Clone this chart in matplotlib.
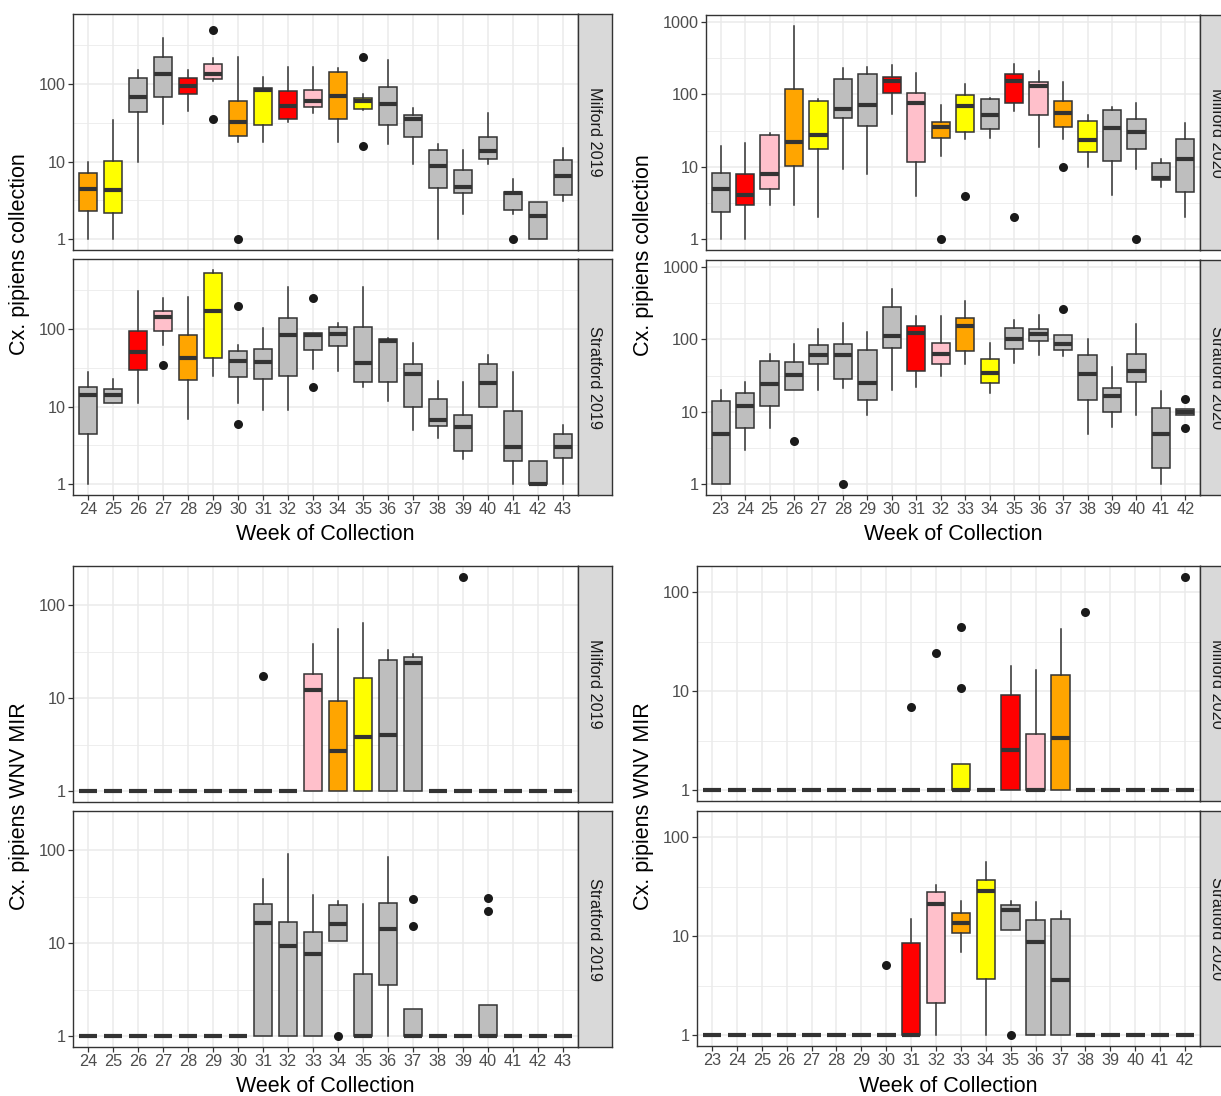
import numpy as np
import matplotlib
matplotlib.use("Agg")
import matplotlib.pyplot as plt
from matplotlib.ticker import FixedLocator

plt.rcParams["font.family"] = ["Liberation Sans", "DejaVu Sans"]

W, H = 1221, 1096

# fill colour code per week (g grey, r red, p pink, o orange, y yellow)
FILLS = {"g": "#BEBEBE", "r": "#FF0000", "p": "#FFC0CB", "o": "#FFA500", "y": "#FFFF00"}

weeks_2019 = list(range(24, 44))
weeks_2020 = list(range(23, 43))

fill_mil19 = "oyggrpoyrpoy" + "g" * 8
fill_str19 = "ggrpoy" + "g" * 14
fill_mil20 = "grpoyggrpoygrpoygggg"
fill_str20 = "g" * 8 + "rpoy" + "g" * 8

# ---- Cx. pipiens collection ----
mil19_lo = [1, 1, 10, 31, 45, 108, 18, 18, 32, 43, 18, 46, 17, 9.2, 1, 2.1, 9.2, 2.1, 1, 3.1]
mil19_q1 = [2.3, 2.2, 44, 68, 74, 118, 21.5, 30, 36, 50, 35, 48, 30, 21, 4.6, 4.0, 10.7, 2.4, 1, 3.7]
mil19_med = [4.5, 4.3, 68, 135, 95, 136, 32, 83, 52, 61, 71, 60, 56, 35, 8.9, 4.7, 13.6, 3.9, 2, 6.5]
mil19_q3 = [7.1, 10.1, 120, 221, 120, 183, 61, 90, 81, 85, 142, 67, 93, 40, 14.2, 7.8, 21, 4.1, 3, 10.6]
mil19_hi = [10, 34, 150, 393, 153, 217, 223, 123, 166, 166, 161, 75, 206, 49, 17, 14, 43, 5.9, 3, 15]
mil19_out = [(29, 494), (29, 35), (30, 1), (35, 223), (35, 16), (41, 1)]

str19_lo = [1, 11, 11, 62, 7, 25, 11, 9.1, 9.1, 31, 29, 18, 12, 5, 4, 2.1, 9.9, 1, 1, 1]
str19_q1 = [4.5, 11, 30, 94, 22, 43, 24, 23, 25, 53, 60, 21, 21, 9.9, 5.7, 2.7, 9.9, 2, 1, 2.2]
str19_med = [14, 14, 51, 145, 42, 173, 39, 38, 84, 85, 87, 37, 70, 26, 6.8, 5.4, 20, 3, 1, 3]
str19_q3 = [18, 17, 94, 171, 84, 527, 52, 56, 140, 90, 107, 107, 74, 35, 12.4, 7.8, 36, 8.7, 2, 4.4]
str19_hi = [28, 22.5, 311, 250, 257, 582, 63, 102, 347, 90, 121, 347, 76, 67, 21.6, 21, 46, 28, 2, 5.8]
str19_out = [(27, 34), (30, 199), (30, 6), (33, 250), (33, 18)]

mil20_lo = [1, 1, 3, 3, 2, 9.2, 8, 53, 4, 14, 24, 25, 58, 19, 24, 10, 4.1, 9.2, 5.2, 2]
mil20_q1 = [2.4, 2.95, 5, 10.3, 17.5, 47, 37, 105, 11.8, 25, 30, 33, 76, 51, 35, 16, 12, 17.7, 6.5, 4.5]
mil20_med = [4.9, 4.1, 8, 22, 27, 63, 71, 153, 75, 35, 69, 51, 152, 131, 55, 23.5, 34, 30, 7.1, 13]
mil20_q3 = [8.2, 7.9, 27, 118, 80, 164, 190, 171, 105, 42, 98, 86, 190, 146, 81, 43, 60, 46, 11.3, 24]
mil20_hi = [19.4, 21.6, 29, 881, 86, 227, 239, 252, 194, 70, 138, 88, 261, 211, 147, 51, 67, 75, 12.7, 40]
mil20_out = [(32, 1), (33, 4), (35, 2), (37, 10), (40, 1)]

str20_lo = [1, 3, 6, 20, 20, 21, 9, 20, 22, 31, 45, 18, 47, 61, 59, 4.9, 6.1, 9, 1, 8.9]
str20_q1 = [1, 6, 12, 20, 45, 28, 14.7, 76, 36, 45, 69, 25, 73, 94, 71, 14.7, 9.8, 25.6, 1.7, 8.9]
str20_med = [5, 12, 24, 32, 60, 60, 25, 112, 120, 63, 151, 34, 101, 119, 87, 33, 16.7, 37, 4.9, 10]
str20_q3 = [14, 18, 50, 49, 83, 87, 71, 275, 153, 88, 198, 54, 141, 138, 116, 60, 21, 62, 11.4, 10.9]
str20_hi = [20, 26, 62, 87, 138, 170, 124, 493, 208, 208, 336, 89, 183, 215, 116, 102, 41, 161, 19.6, 10.9]
str20_out = [(26, 4), (28, 1), (37, 258), (42, 15), (42, 6)]

# ---- Cx. pipiens WNV MIR ----
wmil19_lo = [1] * 20
wmil19_q1 = [1] * 20
wmil19_med = [1, 1, 1, 1, 1, 1, 1, 1, 1, 12.2, 2.7, 3.8, 4.0, 24, 1, 1, 1, 1, 1, 1]
wmil19_q3 = [1, 1, 1, 1, 1, 1, 1, 1, 1, 18.1, 9.4, 16.5, 26, 27.6, 1, 1, 1, 1, 1, 1]
wmil19_hi = [1, 1, 1, 1, 1, 1, 1, 1, 1, 38.5, 56, 64, 33, 30, 1, 1, 1, 1, 1, 1]
wmil19_out = [(31, 17.5), (39, 202)]

wstr19_lo = [1, 1, 1, 1, 1, 1, 1, 1, 1, 1, 10.5, 1, 1, 1, 1, 1, 1, 1, 1, 1]
wstr19_q1 = [1, 1, 1, 1, 1, 1, 1, 1, 1, 1, 10.5, 1, 3.6, 1, 1, 1, 1, 1, 1, 1]
wstr19_med = [1, 1, 1, 1, 1, 1, 1, 16.4, 9.3, 7.6, 16.2, 1, 14.2, 1, 1, 1, 1, 1, 1, 1]
wstr19_q3 = [1, 1, 1, 1, 1, 1, 1, 26.3, 16.8, 13.3, 25.9, 4.7, 27, 1.97, 1, 1, 2.15, 1, 1, 1]
wstr19_hi = [1, 1, 1, 1, 1, 1, 1, 48.6, 92, 32.6, 28.1, 26.1, 85, 1.97, 1, 1, 2.15, 1, 1, 1]
wstr19_out = [(34, 1), (37, 29.5), (37, 15.2), (40, 30.5), (40, 22.1)]

wmil20_lo = [1] * 20
wmil20_q1 = [1] * 20
wmil20_med = [1, 1, 1, 1, 1, 1, 1, 1, 1, 1, 1, 1, 2.54, 1, 3.4, 1, 1, 1, 1, 1]
wmil20_q3 = [1, 1, 1, 1, 1, 1, 1, 1, 1, 1, 1.83, 1, 9.1, 3.74, 14.6, 1, 1, 1, 1, 1]
wmil20_hi = [1, 1, 1, 1, 1, 1, 1, 1, 1, 1, 1.83, 1, 18, 16.6, 43, 1, 1, 1, 1, 1]
wmil20_out = [(31, 7), (32, 24.5), (33, 45), (33, 10.8), (38, 64), (42, 144)]

wstr20_lo = [1, 1, 1, 1, 1, 1, 1, 1, 1, 1, 6.9, 1, 11.5, 1, 1, 1, 1, 1, 1, 1]
wstr20_q1 = [1, 1, 1, 1, 1, 1, 1, 1, 1, 2.1, 10.8, 3.7, 11.5, 1, 1, 1, 1, 1, 1, 1]
wstr20_med = [1, 1, 1, 1, 1, 1, 1, 1, 1, 21, 13.5, 28.6, 18.4, 8.7, 3.6, 1, 1, 1, 1, 1]
wstr20_q3 = [1, 1, 1, 1, 1, 1, 1, 1, 8.5, 28, 17.3, 37, 20.7, 14.6, 14.8, 1, 1, 1, 1, 1]
wstr20_hi = [1, 1, 1, 1, 1, 1, 1, 1, 15, 33, 23, 56, 23, 22.3, 18, 1, 1, 1, 1, 1]
wstr20_out = [(30, 5.1), (35, 1)]

EDGE = "#333333"
GRID = "#EBEBEB"
TICK_FS = 11.7
TITLE_FS = 15.5


def px_axes(fig, x0, y0, x1, y1):
    return fig.add_axes([x0 / W, 1 - y1 / H, (x1 - x0) / W, (y1 - y0) / H])


def facet(ax, weeks, fills, lo, q1, med, q3, hi, out, ylim, yticks, bottom):
    stats = []
    for i, wk in enumerate(weeks):
        fl = [v for (w, v) in out if w == wk]
        stats.append(dict(med=med[i], q1=q1[i], q3=q3[i], whislo=lo[i], whishi=hi[i],
                          fliers=np.array(fl)))
    bp = ax.bxp(stats, positions=weeks, widths=0.75, patch_artist=True, showcaps=False,
                boxprops=dict(edgecolor=EDGE, linewidth=1.1),
                whiskerprops=dict(color=EDGE, linewidth=1.1),
                medianprops=dict(color=EDGE, linewidth=3, solid_capstyle="butt"),
                flierprops=dict(marker="o", markerfacecolor="#1A1A1A", markeredgecolor="none",
                                markersize=6.5))
    for patch, c in zip(bp["boxes"], fills):
        patch.set_facecolor(FILLS[c])
    ax.set_yscale("log")
    ax.set_ylim(*ylim)
    ax.set_xlim(weeks[0] - 0.6, weeks[-1] + 0.6)
    ax.set_yticks(yticks, [str(t) for t in yticks])
    ax.yaxis.set_minor_locator(FixedLocator([10 ** (k + 0.5) for k in range(-1, 4)]))
    ax.yaxis.set_minor_formatter(plt.NullFormatter())
    ax.set_xticks(weeks, [str(w) for w in weeks] if bottom else [""] * len(weeks))
    ax.tick_params(axis="y", which="major", length=3.8, width=0.9, color=EDGE, pad=1.5,
                   labelsize=TICK_FS, labelcolor="#4D4D4D")
    ax.tick_params(axis="y", which="minor", length=0)
    ax.tick_params(axis="x", length=3.8 if bottom else 0, width=0.9, color=EDGE, pad=1.5,
                   labelsize=TICK_FS, labelcolor="#4D4D4D")
    ax.grid(True, which="major", color=GRID, linewidth=1.1)
    ax.grid(True, which="minor", axis="y", color=GRID, linewidth=0.6)
    ax.set_axisbelow(True)
    for s in ax.spines.values():
        s.set_color(EDGE)
        s.set_linewidth(1.0)


def strip(fig, x0, y0, y1, label):
    sa = px_axes(fig, x0, y0, x0 + 34, y1)
    sa.set_facecolor("#D9D9D9")
    sa.set_xticks([])
    sa.set_yticks([])
    for s in sa.spines.values():
        s.set_color(EDGE)
        s.set_linewidth(1.0)
    sa.text(0.5, 0.5, label, rotation=-90, ha="center", va="center", fontsize=TICK_FS,
            color="#1A1A1A", transform=sa.transAxes)


def panel_ylim(groups):
    vals = [v for g in groups for v in g]
    lmin, lmax = np.log10(min(vals)), np.log10(max(vals))
    pad = 0.05 * (lmax - lmin)
    return 10 ** (lmin - pad), 10 ** (lmax + pad)


fig = plt.figure(figsize=(W / 100, H / 100), dpi=100)

panels = [
    dict(x=(73, 578), rows=((14, 250), (259, 495)), weeks=weeks_2019,
         yticks=[1, 10, 100], ylab="Cx. pipiens collection", xl_y=535, yl_x=20,
         facets=[("Milford 2019", fill_mil19, mil19_lo, mil19_q1, mil19_med, mil19_q3, mil19_hi, mil19_out),
                 ("Stratford 2019", fill_str19, str19_lo, str19_q1, str19_med, str19_q3, str19_hi, str19_out)]),
    dict(x=(706, 1200), rows=((15, 250), (260, 495)), weeks=weeks_2020,
         yticks=[1, 10, 100, 1000], ylab="Cx. pipiens collection", xl_y=535, yl_x=643,
         facets=[("Milford 2020", fill_mil20, mil20_lo, mil20_q1, mil20_med, mil20_q3, mil20_hi, mil20_out),
                 ("Stratford 2020", fill_str20, str20_lo, str20_q1, str20_med, str20_q3, str20_hi, str20_out)]),
    dict(x=(73, 578), rows=((566, 802), (811, 1047)), weeks=weeks_2019,
         yticks=[1, 10, 100], ylab="Cx. pipiens WNV MIR", xl_y=1086, yl_x=20,
         facets=[("Milford 2019", fill_mil19, wmil19_lo, wmil19_q1, wmil19_med, wmil19_q3, wmil19_hi, wmil19_out),
                 ("Stratford 2019", fill_str19, wstr19_lo, wstr19_q1, wstr19_med, wstr19_q3, wstr19_hi, wstr19_out)]),
    dict(x=(697, 1200), rows=((566, 801), (811, 1046)), weeks=weeks_2020,
         yticks=[1, 10, 100], ylab="Cx. pipiens WNV MIR", xl_y=1086, yl_x=643,
         facets=[("Milford 2020", fill_mil20, wmil20_lo, wmil20_q1, wmil20_med, wmil20_q3, wmil20_hi, wmil20_out),
                 ("Stratford 2020", fill_str20, wstr20_lo, wstr20_q1, wstr20_med, wstr20_q3, wstr20_hi, wstr20_out)]),
]

for p in panels:
    groups = []
    for f in p["facets"]:
        groups += [f[2], f[6], [v for (_, v) in f[7]]]
    ylim = panel_ylim(groups)
    x0, x1 = p["x"]
    for j, f in enumerate(p["facets"]):
        y0, y1 = p["rows"][j]
        ax = px_axes(fig, x0, y0, x1, y1)
        facet(ax, p["weeks"], f[1], f[2], f[3], f[4], f[5], f[6], f[7], ylim, p["yticks"], j == 1)
        strip(fig, x1, y0, y1, f[0])
    fig.text((x0 + x1) / 2 / W, 1 - p["xl_y"] / H, "Week of Collection", ha="center", va="center",
             fontsize=TITLE_FS)
    yc = (p["rows"][0][0] + p["rows"][1][1]) / 2
    fig.text(p["yl_x"] / W, 1 - yc / H, p["ylab"], rotation=90, ha="center", va="center",
             fontsize=TITLE_FS)

fig.savefig("out.png", dpi=100)
